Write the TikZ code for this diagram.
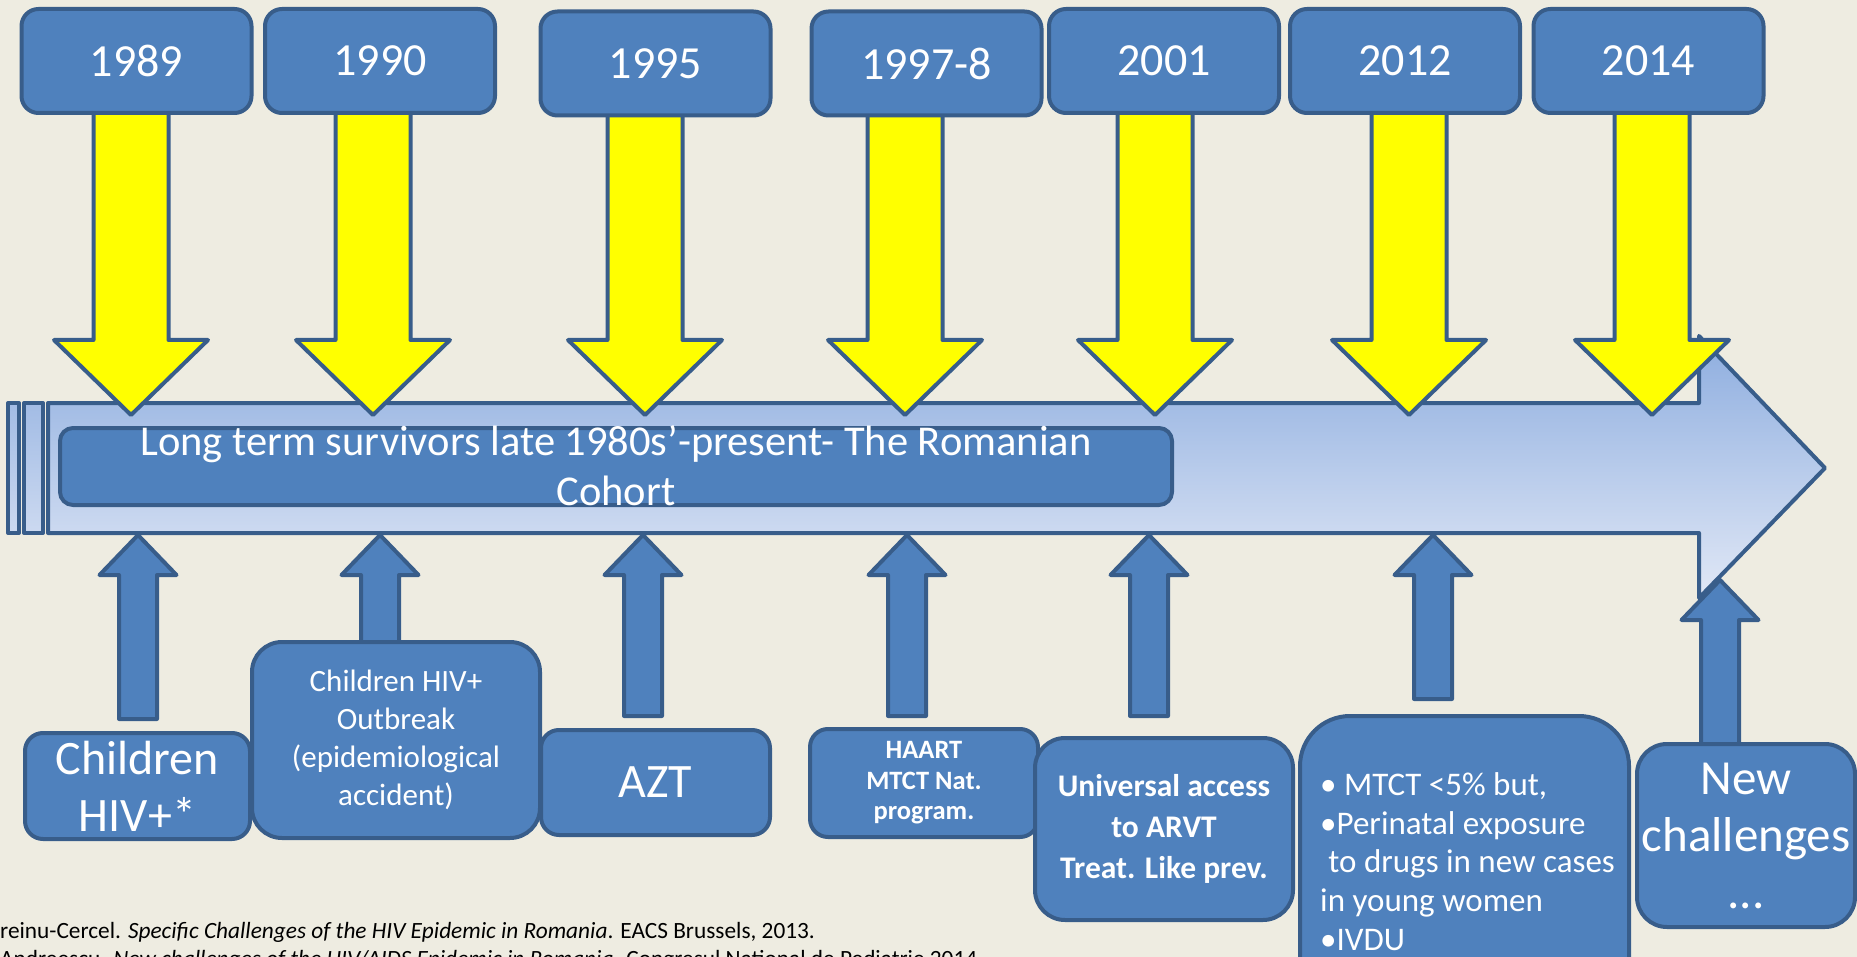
\documentclass[tikz,border=0pt]{standalone}
\usepackage{fontspec}
\setmainfont{Carlito}
\definecolor{bg}{HTML}{EEECE1}
\definecolor{acc}{HTML}{4F81BD}
\definecolor{edge}{HTML}{385D8A}
\definecolor{gtop}{HTML}{8DADDF}
\definecolor{gbot}{HTML}{E1E8F6}
\definecolor{ylw}{HTML}{FFFF00}
\begin{document}
\begin{tikzpicture}[x=1pt,y=-1pt,
  line join=round,
  box/.style={draw=edge, fill=acc, line width=4pt, inner sep=0pt, text=white, align=center},
  yearbox/.style={box, rounded corners=17pt, minimum width=230pt, minimum height=104pt, font=\fontsize{46}{55}\selectfont},
  yarrow/.style={draw=edge, fill=ylw, line width=4pt},
  uarrow/.style={draw=edge, fill=acc, line width=4pt},
  bigarrow/.style={draw=edge, line width=4pt, top color=gtop, bottom color=gbot},
  reftext/.style={anchor=base west, inner sep=0pt, text=black, font=\fontsize{23.3}{28}\selectfont},
]
\useasboundingbox[fill=bg] (0,0) rectangle (1857,957);

% timeline arrow
\path[bigarrow] (48,403) -- (1699,403) -- (1699,336) -- (1825,468) -- (1699,598) -- (1699,533) -- (48,533) -- cycle;
\path[bigarrow, top color=gbot!25!gtop, bottom color=gbot!75!gtop] (8,403) rectangle (19,533);
\path[bigarrow, top color=gbot!25!gtop, bottom color=gbot!75!gtop] (24,403) rectangle (43,533);

% cohort bar
\node[box, rounded corners=13pt, minimum width=1112pt, minimum height=77pt] (cohortbox) at (616,466.5) {};
\node[text=white, align=center, inner sep=0pt, font=\fontsize{42.5}{50}\selectfont] (cohorttext) at (616,466) {Long term survivors late 1980s’-present- The Romanian\\Cohort};

% yellow arrows
\foreach \t in {131,373,645,905,1155,1409,1652}
  \draw[yarrow] ({\t-37.5},105) -- ({\t+37.5},105) -- ({\t+37.5},340) -- ({\t+77},340) -- (\t,415) -- ({\t-77},340) -- ({\t-37.5},340) -- cycle;

% year boxes
\node[yearbox] (y1989) at (136.5,61) {1989};
\node[yearbox] (y1990) at (380,61) {1990};
\node[yearbox] (y1995) at (655.5,63.5) {1995};
\node[yearbox] (y1997) at (926.5,63.5) {1997-8};
\node[yearbox] (y2001) at (1164,61) {2001};
\node[yearbox] (y2012) at (1405,61) {2012};
\node[yearbox] (y2014) at (1648.5,61) {2014};

% up arrows
\foreach \t/\b in {138/719,380/650,643/716,907/716,1149/716,1433/699}
  \draw[uarrow] (\t,535) -- ({\t+38.5},575) -- ({\t+19},575) -- ({\t+19},\b) -- ({\t-19},\b) -- ({\t-19},575) -- ({\t-38.5},575) -- cycle;
\draw[uarrow] (1720,580) -- (1758.5,620) -- (1739,620) -- (1739,755) -- (1701,755) -- (1701,620) -- (1681.5,620) -- cycle;

% bottom boxes
\node[box, rounded corners=18pt, minimum width=225pt, minimum height=106pt, font=\fontsize{48}{57}\selectfont] (children) at (137.5,786) {Children\\HIV+*};
\node[box, rounded corners=30pt, minimum width=288pt, minimum height=196pt, font=\fontsize{31}{38}\selectfont] (outbreak) at (396,740) {Children HIV+\\Outbreak\\(epidemiological\\accident)};
\node[box, rounded corners=18pt, minimum width=229pt, minimum height=105pt, font=\fontsize{48}{55}\selectfont] (azt) at (655.5,782.5) {AZT};
\node[box, rounded corners=18pt, minimum width=228pt, minimum height=108pt, font=\bfseries\fontsize{26.5}{30.5}\selectfont] (haart) at (924,783) {HAART\\MTCT Nat.\\program.};
\node[box, rounded corners=30pt, minimum width=258pt, minimum height=182pt, font=\bfseries\fontsize{31.5}{41}\selectfont] (universal) at (1164,829) {Universal access\\to ARVT\\Treat. Like prev.};
\node[box, rounded corners=50pt, minimum width=329pt, minimum height=320pt] (mtct) at (1464.5,876) {};
\node[anchor=north west, inner sep=0pt, text=white, align=left, font=\fontsize{33}{38.8}\selectfont] (mtcttext) at (1320,771) {\rule{0pt}{24pt}• MTCT <5\% but,\\•Perinatal exposure\\\hspace*{0.25em}to drugs in new cases\\in young women\\•IVDU};
\node[box, rounded corners=30pt, minimum width=218pt, minimum height=183pt, font=\fontsize{49}{57}\selectfont] (newch) at (1746,835.5) {New\\challenges\\...};

% references
\node[reftext] (ref1) at (0,938) {reinu-Cercel. \textit{Specific Challenges of the HIV Epidemic in Romania}. EACS Brussels, 2013.};
\node[reftext] (ref2) at (0,966) {Andreescu. \textit{New challenges of the HIV/AIDS Epidemic in Romania}. Congresul National de Pediatrie 2014};
\end{tikzpicture}
\end{document}
